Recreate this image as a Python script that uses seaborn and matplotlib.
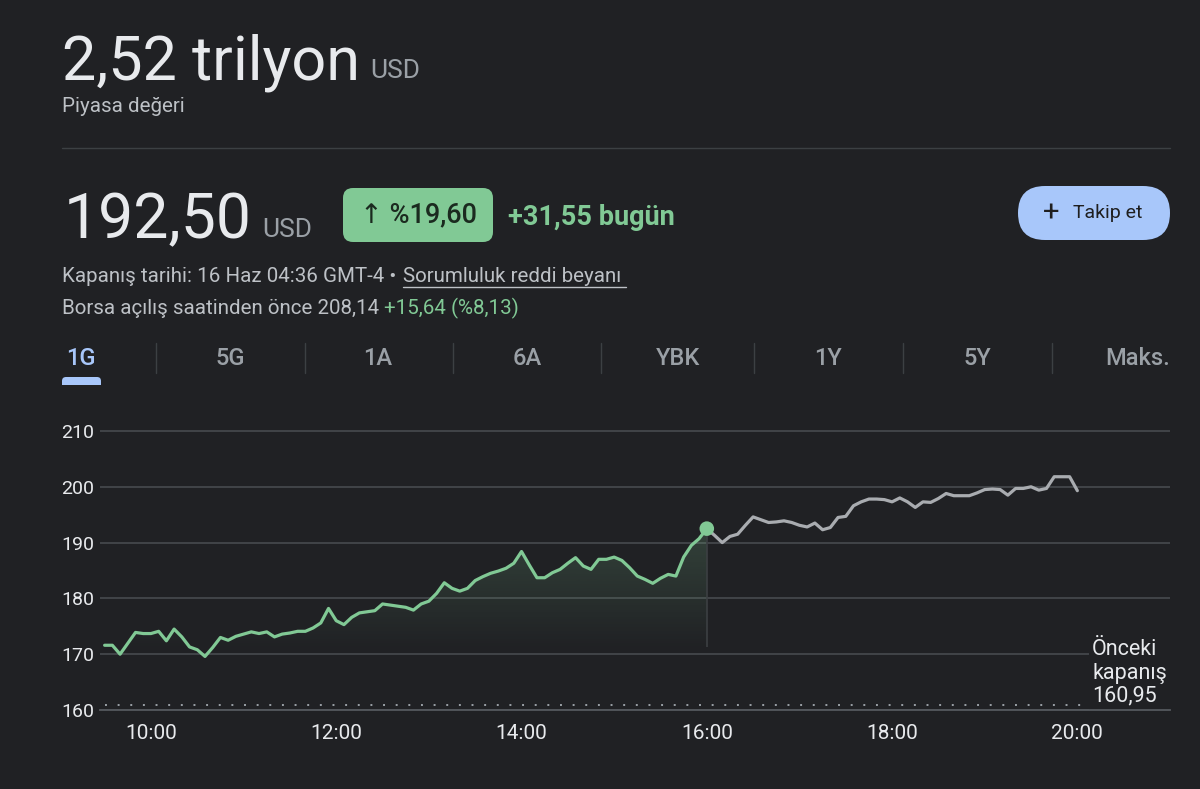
#!/usr/bin/env python3
"""
Piyasa değeri / gün içi fiyat grafiği (koyu tema)
"""

import numpy as np
import pandas as pd
import matplotlib
matplotlib.use("Agg")
import matplotlib.pyplot as plt
import seaborn as sns
from matplotlib.patches import FancyBboxPatch
from matplotlib.colors import to_rgb

# --- veri -------------------------------------------------------------
seans_saat = [
    "09:30", "09:35", "09:40", "09:50", "09:55", "10:00", "10:05", "10:10",
    "10:15", "10:20", "10:25", "10:30", "10:35", "10:40", "10:45", "10:50",
    "10:55", "11:00", "11:05", "11:10", "11:15", "11:20", "11:25", "11:30",
    "11:35", "11:40", "11:45", "11:50", "11:55", "12:00", "12:05", "12:10",
    "12:15", "12:20", "12:25", "12:30", "12:35", "12:40", "12:45", "12:50",
    "12:55", "13:00", "13:05", "13:10", "13:15", "13:20", "13:25", "13:30",
    "13:35", "13:40", "13:45", "13:50", "13:55", "14:00", "14:05", "14:10",
    "14:15", "14:20", "14:25", "14:30", "14:35", "14:40", "14:45", "14:50",
    "14:55", "15:00", "15:05", "15:10", "15:15", "15:20", "15:25", "15:30",
    "15:35", "15:40", "15:45", "15:50", "15:55", "16:00",
]
seans_fiyat = [
    171.6, 171.6, 170.0, 173.9, 173.7, 173.7, 174.1, 172.4,
    174.5, 173.1, 171.3, 170.8, 169.6, 171.2, 173.0, 172.5,
    173.2, 173.6, 174.0, 173.7, 174.0, 173.1, 173.6, 173.8,
    174.1, 174.1, 174.7, 175.6, 178.2, 176.0, 175.3, 176.6,
    177.4, 177.6, 177.8, 179.0, 178.8, 178.6, 178.4, 177.9,
    179.0, 179.5, 180.9, 182.8, 181.8, 181.3, 181.8, 183.2,
    183.9, 184.5, 184.9, 185.4, 186.3, 188.4, 186.0, 183.7,
    183.7, 184.6, 185.2, 186.3, 187.3, 185.8, 185.2, 187.0,
    187.0, 187.4, 186.8, 185.5, 184.0, 183.4, 182.7, 183.6,
    184.3, 184.0, 187.4, 189.5, 190.7, 192.5,
]
sonrasi_saat = [
    "16:00", "16:05", "16:10", "16:15", "16:20", "16:25", "16:30", "16:35",
    "16:40", "16:45", "16:50", "16:55", "17:00", "17:05", "17:10", "17:15",
    "17:20", "17:25", "17:30", "17:35", "17:40", "17:45", "17:50", "17:55",
    "18:00", "18:05", "18:10", "18:15", "18:20", "18:25", "18:30", "18:35",
    "18:40", "18:45", "18:50", "18:55", "19:00", "19:05", "19:10", "19:15",
    "19:20", "19:25", "19:30", "19:35", "19:40", "19:45", "19:50", "19:55",
    "20:00",
]
sonrasi_fiyat = [
    192.5, 191.3, 190.0, 191.1, 191.5, 193.1, 194.6, 194.1,
    193.6, 193.7, 193.9, 193.6, 193.1, 192.8, 193.5, 192.3,
    192.7, 194.5, 194.7, 196.6, 197.3, 197.8, 197.8, 197.7,
    197.3, 198.0, 197.3, 196.3, 197.3, 197.2, 197.9, 198.8,
    198.4, 198.4, 198.4, 198.9, 199.5, 199.6, 199.5, 198.5,
    199.7, 199.7, 200.0, 199.4, 199.7, 201.8, 201.8, 201.8,
    199.3,
]
onceki_kapanis = 160.95
y_tikler = [160, 170, 180, 190, 200, 210]
x_tik_etiketleri = ["10:00", "12:00", "14:00", "16:00", "18:00", "20:00"]
sekmeler = ["1G", "5G", "1A", "6A", "YBK", "1Y", "5Y", "Maks."]

# --- renkler ----------------------------------------------------------
BG = "#202124"
TEXT = "#e8eaed"
SUBTEXT = "#bdc1c6"
MUTED = "#9aa0a6"
GREEN = "#81c995"
BLUE = "#a8c7fa"
GRID = "#44474b"
GREY_LINE = "#a9acb0"

W, H = 1200, 789


def saat_to_float(s):
    h, m = s.split(":")
    return int(h) + int(m) / 60


def draw_header(ov):
    """Üst kısımdaki metinler, rozet ve butonlar (piksel koordinatları)"""
    ov.text(62, 79, "2,52 trilyon", fontsize=44, color=TEXT, va="baseline")
    ov.text(370, 78, "USD", fontsize=19, color=MUTED, va="baseline")
    ov.text(62, 112, "Piyasa değeri", fontsize=14.8, color=SUBTEXT, va="baseline")
    ov.plot([62, 1170], [148, 148], color="#3c4043", lw=1)

    ov.text(64, 238, "192,50", fontsize=45, color=TEXT, va="baseline")
    ov.text(262, 237, "USD", fontsize=19, color=MUTED, va="baseline")

    # yüzde rozeti
    ov.add_patch(FancyBboxPatch((343, 188), 150, 54, boxstyle="round,pad=0,rounding_size=10",
                                facecolor=GREEN, edgecolor="none"))
    ov.text(418, 215, "↑ %19,60", fontsize=19.5, color="#1b2a1f", ha="center", va="center",
            weight="medium")
    ov.text(508, 225, "+31,55 bugün", fontsize=19.5, color=GREEN, weight="bold", va="baseline")

    # takip et butonu
    ov.add_patch(FancyBboxPatch((1018, 186), 152, 54, boxstyle="round,pad=0,rounding_size=27",
                                facecolor=BLUE, edgecolor="none"))
    ov.text(1051, 213, "+", fontsize=21, color="#1f1f1f", ha="center", va="center")
    ov.text(1073, 213, "Takip et", fontsize=14, color="#1f1f1f", va="center")

    ov.text(62, 282, "Kapanış tarihi: 16 Haz 04:36 GMT-4 •", fontsize=14.8,
            color=SUBTEXT, va="baseline")
    ov.text(403, 282, "Sorumluluk reddi beyanı", fontsize=14.8, color=SUBTEXT, va="baseline")
    ov.plot([403, 626], [286.5, 286.5], color=SUBTEXT, lw=1)
    ov.text(62, 314, "Borsa açılış saatinden önce 208,14", fontsize=14.8,
            color=SUBTEXT, va="baseline")
    ov.text(384, 314, "+15,64 (%8,13)", fontsize=14.8, color=GREEN, va="baseline")

    # zaman aralığı sekmeleri
    merkezler = [81, 230, 378, 527, 678, 828, 977, 1170]
    for i, (etiket, cx) in enumerate(zip(sekmeler, merkezler)):
        ha = "right" if i == len(sekmeler) - 1 else "center"
        ov.text(cx, 358, etiket, fontsize=17, weight="medium",
                color=BLUE if i == 0 else MUTED, ha=ha, va="center")
    for sx in [156, 305, 453, 601, 754, 903, 1052]:
        ov.plot([sx, sx], [343, 373], color="#3c4043", lw=1)
    ov.add_patch(FancyBboxPatch((62, 377), 39, 12, boxstyle="round,pad=0,rounding_size=4",
                                facecolor=BLUE, edgecolor="none"))
    # alt köşeleri düz görünsün diye örtü
    ov.add_patch(plt.Rectangle((60, 385), 44, 6, facecolor=BG, edgecolor="none"))


def draw_chart(ax):
    """Gün içi fiyat çizgisi"""
    df = pd.concat([
        pd.DataFrame({"saat": [saat_to_float(s) for s in seans_saat],
                      "fiyat": seans_fiyat, "seans": "normal"}),
        pd.DataFrame({"saat": [saat_to_float(s) for s in sonrasi_saat],
                      "fiyat": sonrasi_fiyat, "seans": "sonrasi"}),
    ], ignore_index=True)

    xlim = (9.45, 21.0)
    ylim = (160, 211.07)

    # gradyan dolgu (normal seans altı)
    reg = df[df["seans"] == "normal"]
    poly = ax.fill_between(reg["saat"], reg["fiyat"], 170.5, color="none", lw=0)
    grad = np.zeros((120, 1, 4))
    grad[..., :3] = to_rgb(GREEN)
    grad[:, 0, 3] = np.linspace(0.20, 0.0, 120)
    im = ax.imshow(grad, extent=[reg["saat"].min(), reg["saat"].max(), 170.5, reg["fiyat"].max()],
                   origin="upper", aspect="auto", zorder=1, interpolation="bilinear")
    im.set_clip_path(poly.get_paths()[0], transform=ax.transData)
    ax.vlines(reg["saat"].iloc[-1], 171.3, reg["fiyat"].iloc[-1], color="#3c4043", lw=1.2, zorder=1)

    sns.lineplot(data=df, x="saat", y="fiyat", hue="seans",
                 palette={"normal": GREEN, "sonrasi": GREY_LINE},
                 estimator=None, sort=False, legend=False, linewidth=2.3, ax=ax, zorder=3)
    sns.scatterplot(x=[reg["saat"].iloc[-1]], y=[reg["fiyat"].iloc[-1]], s=110,
                    color=GREEN, edgecolor="none", ax=ax, zorder=4)

    # önceki kapanış
    ax.plot([9.5, 20.05], [onceki_kapanis] * 2, color=MUTED, lw=1.4,
            linestyle=(0, (1, 5.5)), zorder=2)
    ax.text(20.16, 160.55, "Önceki\nkapanış\n" + f"{onceki_kapanis:.2f}".replace(".", ","),
            fontsize=15.5, color=TEXT, ha="left", va="bottom", linespacing=1.15, zorder=6,
            bbox=dict(facecolor=BG, edgecolor="none", pad=2))

    ax.set_xlim(*xlim)
    ax.set_ylim(*ylim)
    ax.set_yticks(y_tikler)
    ax.set_yticklabels([str(v) for v in y_tikler])
    ax.set_xticks([saat_to_float(s) for s in x_tik_etiketleri])
    ax.set_xticklabels(x_tik_etiketleri)
    ax.grid(axis="y", color=GRID, lw=1.3)
    ax.grid(axis="x", visible=False)
    ax.set_xlabel("")
    ax.set_ylabel("")
    for side in ["top", "right", "left"]:
        ax.spines[side].set_visible(False)
    ax.spines["bottom"].set_color("#55595e")
    ax.spines["bottom"].set_linewidth(1.3)
    ax.spines["bottom"].set_zorder(7)
    ax.tick_params(axis="y", length=0, pad=4, labelsize=14, labelcolor=TEXT)
    ax.tick_params(axis="x", length=6, width=1, color="#55595e", pad=4,
                   labelsize=15, labelcolor=TEXT)


def main():
    sns.set_theme(style="dark", rc={"axes.facecolor": BG, "figure.facecolor": BG})
    plt.rcParams["font.family"] = ["Roboto", "DejaVu Sans"]

    fig = plt.figure(figsize=(W / 100, H / 100), dpi=100)
    fig.patch.set_facecolor(BG)

    ov = fig.add_axes([0, 0, 1, 1])
    ov.set_xlim(0, W)
    ov.set_ylim(H, 0)
    ov.axis("off")
    draw_header(ov)

    ax = fig.add_axes([100 / W, 1 - 710 / H, 1070 / W, 285 / H])
    ax.set_facecolor("none")
    draw_chart(ax)

    fig.savefig("out.png", dpi=100, facecolor=BG)


if __name__ == "__main__":
    main()
